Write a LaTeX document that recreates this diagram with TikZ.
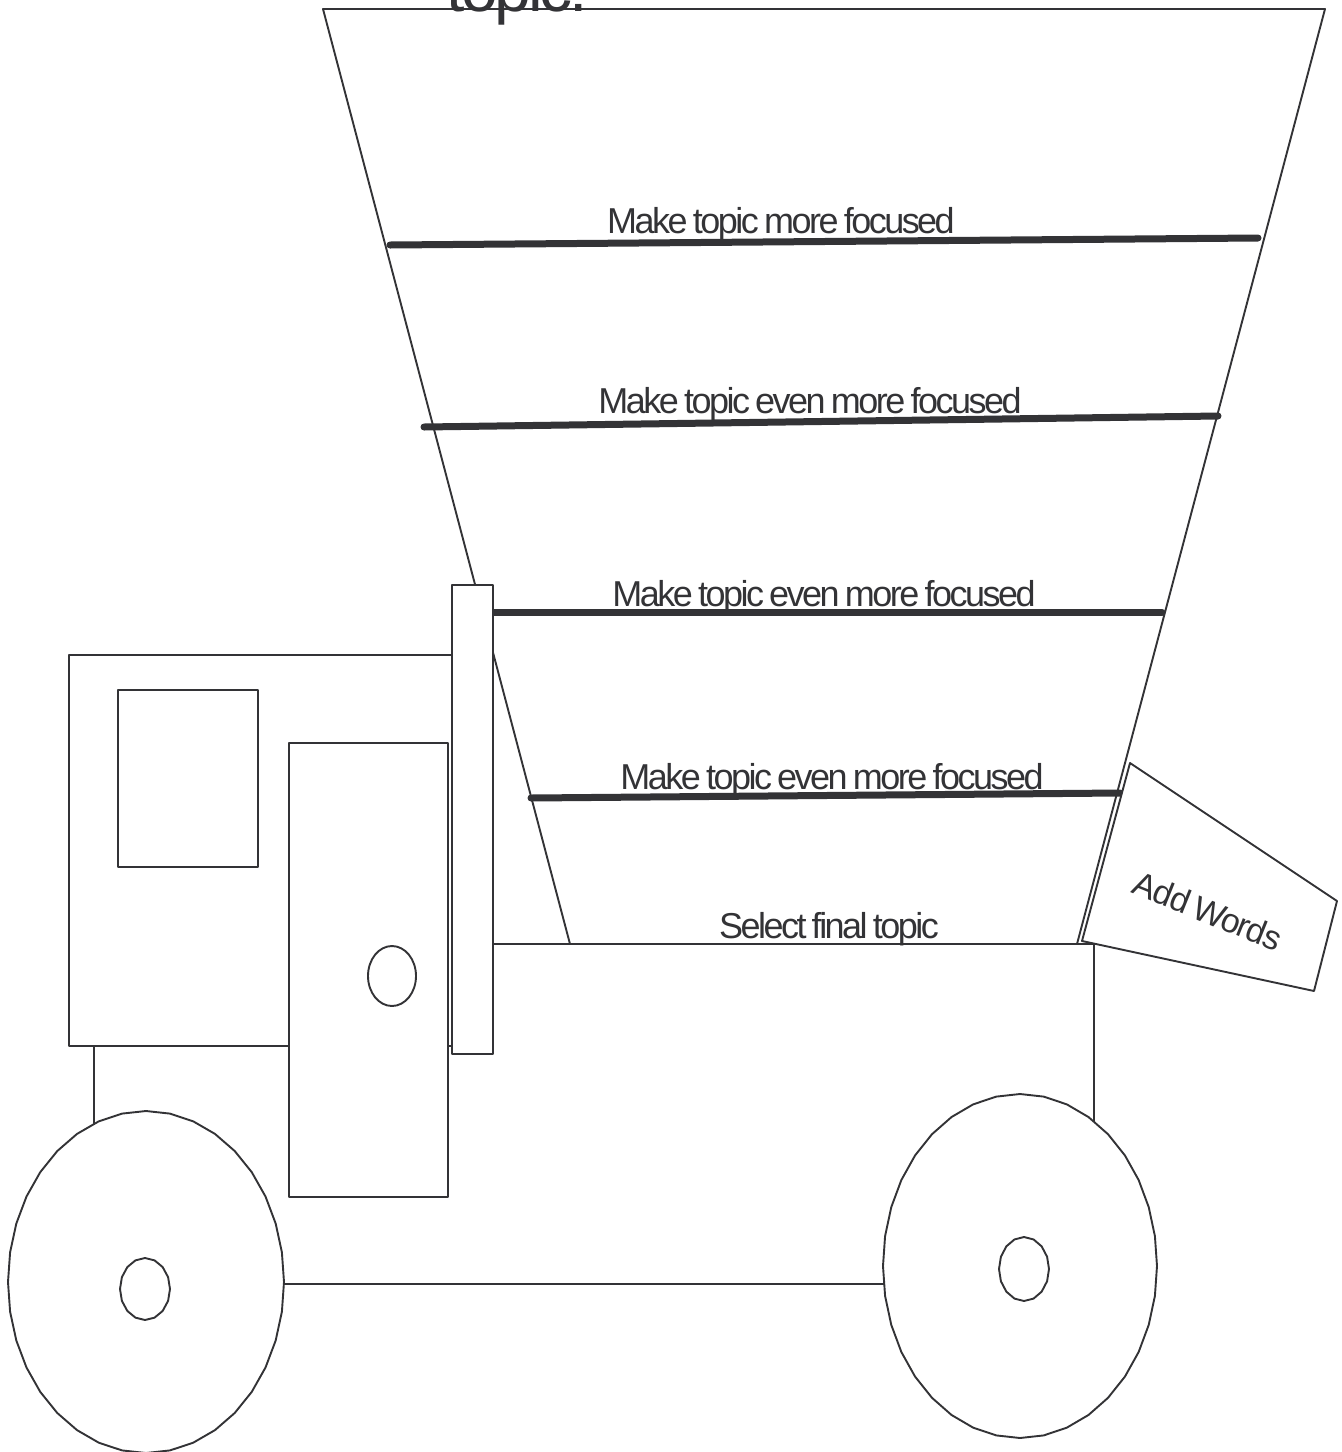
\documentclass[tikz,border=0pt]{standalone}
\usepackage{fontspec}
\setmainfont{Liberation Sans}
\newfontfamily\lblfont{Liberation Sans}[LetterSpace=-7,WordSpace=0.7]
\newfontfamily\bigfont{Liberation Sans}[LetterSpace=-5]
\newfontfamily\addfont{Liberation Sans}[LetterSpace=-4,WordSpace=0.8]
\definecolor{ink}{HTML}{333336}
\begin{document}
\begin{tikzpicture}[x=1pt,y=-1pt,
  thin line/.style={draw=ink,line width=1.9pt,line join=round},
  shape box/.style={thin line,fill=white},
  bar/.style={draw=ink,line width=7pt,line cap=round},
  lbl/.style={inner sep=0pt,anchor=base,text=ink,font=\lblfont\fontsize{36}{40}\selectfont}]
\useasboundingbox (0,0) rectangle (1342,1452);
% body
\draw[shape box] (94,944) rectangle (1094,1284);
% funnel
\draw[thin line] (323,9) -- (1325,9) -- (1077,944) -- (570,944) -- cycle;
% bars
\draw[bar] (390,245) -- (1258,238);
\draw[bar] (424,427) -- (1218,416);
\draw[bar] (493,612) -- (1162,612);
\draw[bar] (531,798) -- (1120,793);
% labels
\node[inner sep=0pt,anchor=base,text=ink,font=\bigfont\fontsize{66}{70}\selectfont] (top) at (517,11) {topic.};
\node[lbl] (t1) at (781,233) {Make topic more focused};
\node[lbl] (t2) at (810,413) {Make topic even more focused};
\node[lbl] (t3) at (824,606) {Make topic even more focused};
\node[lbl] (t4) at (832,789) {Make topic even more focused};
\node[lbl] (t5) at (829,938) {Select final topic};
% cab
\draw[shape box] (69,655) rectangle (452,1046);
\draw[shape box] (118,690) rectangle (258,867);
\draw[shape box] (289,743) rectangle (448,1197);
\draw[shape box] (392,976) ellipse (24 and 30);
% post
\draw[shape box] (452,585) rectangle (493,1054);
% wheels
\draw[shape box] plot[domain=0:360,samples=37] ({146+138*cos(\x)},{1282+171*sin(\x)}) -- cycle;
\draw[shape box] plot[domain=0:360,samples=17] ({145+25*cos(\x)},{1289+31*sin(\x)}) -- cycle;
\draw[shape box] plot[domain=0:360,samples=37] ({1020+137*cos(\x)},{1266+172*sin(\x)}) -- cycle;
\draw[shape box] plot[domain=0:360,samples=17] ({1024+25*cos(\x)},{1269+32*sin(\x)}) -- cycle;
% add words card
\draw[shape box] (1130,763) -- (1337,901) -- (1314,991) -- (1082,941) -- cycle;
\node[inner sep=0pt,text=ink,font=\addfont\fontsize{34}{36}\selectfont,rotate=-22] (add) at (1208,911) {Add Words};
\end{tikzpicture}
\end{document}
